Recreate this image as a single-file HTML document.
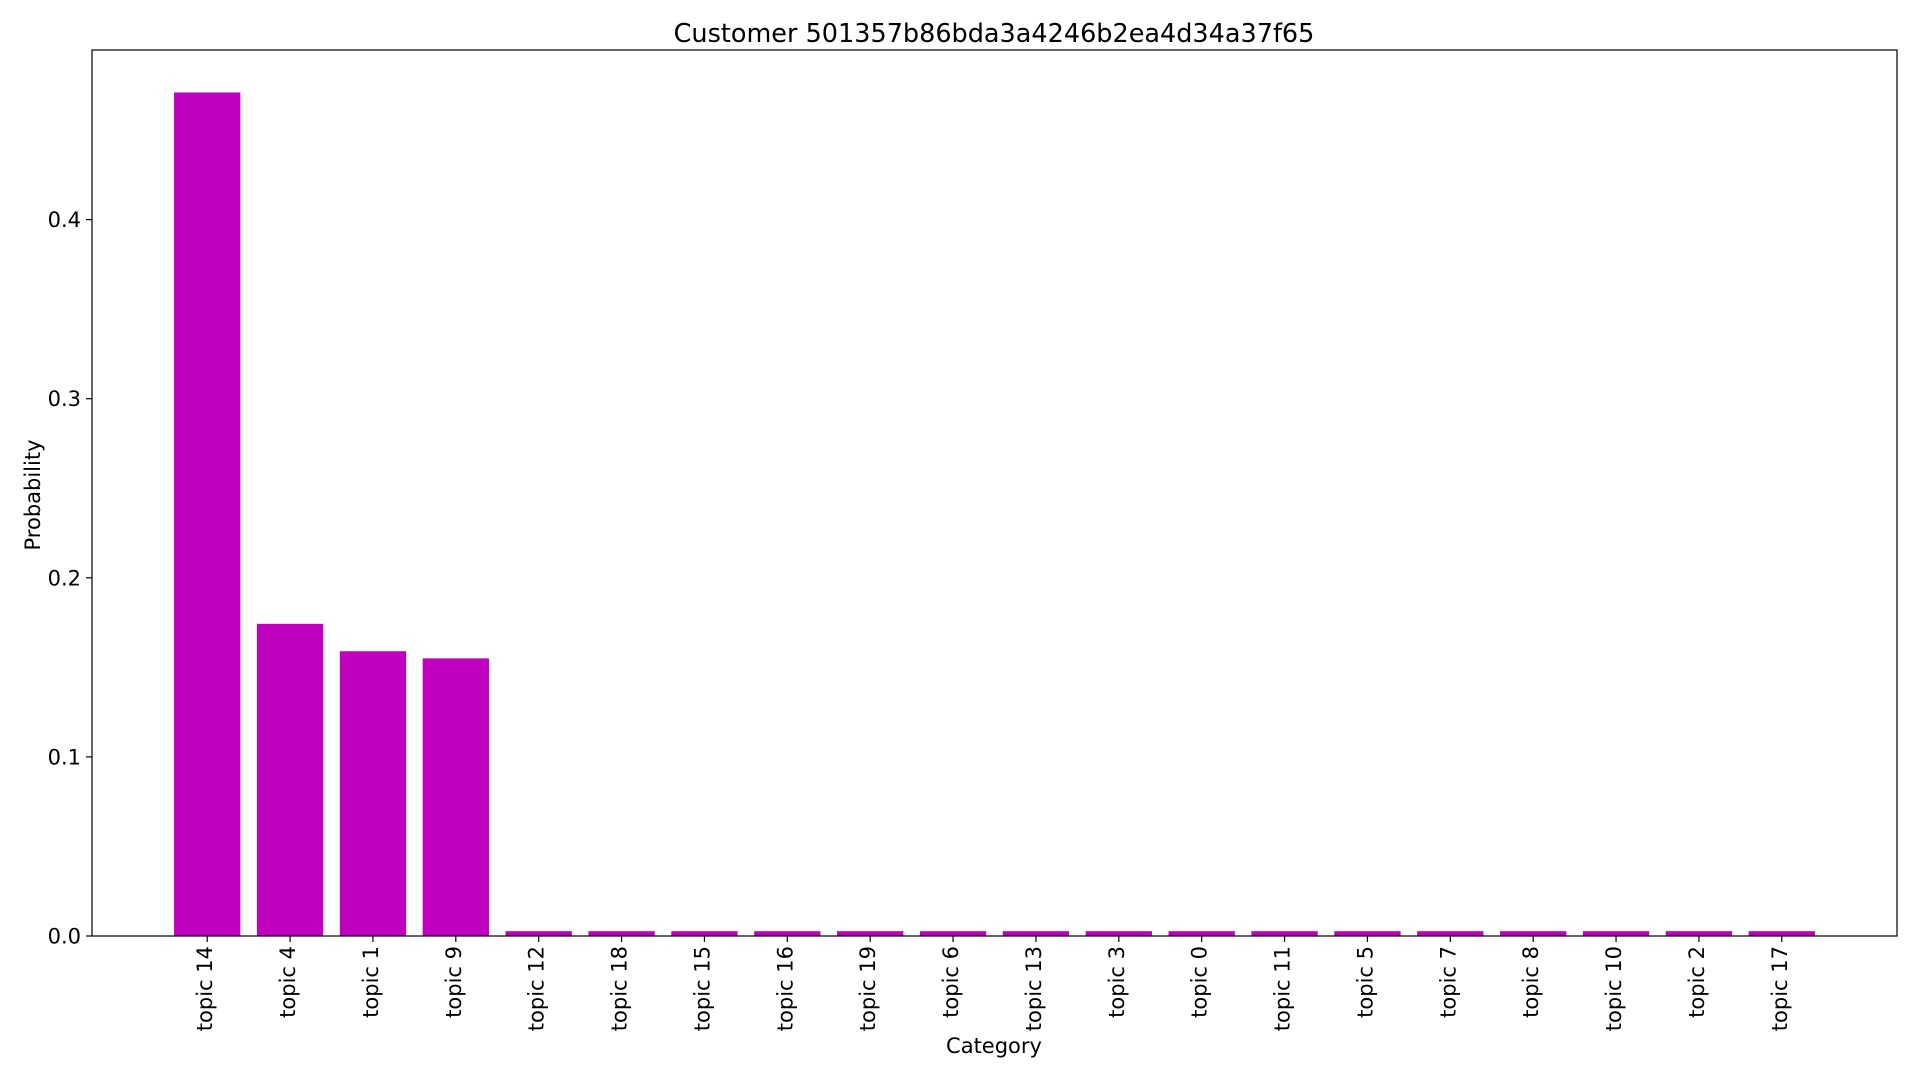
<!DOCTYPE html>
<html><head><meta charset="utf-8"><style>
html,body{margin:0;padding:0;background:#fff;}
svg{display:block;font-family:"DejaVu Sans","Liberation Sans",sans-serif;}
</style></head><body>
<svg id="chart" width="1920" height="1080" viewBox="0 0 1920 1080">
<text x="994" y="42" font-size="25.5" text-anchor="middle" fill="#000">Customer 501357b86bda3a4246b2ea4d34a37f65</text>
<g id="bars"></g>
<g id="yticks"></g>
<g id="xticks"></g>
<rect x="92" y="50" width="1805" height="886" fill="none" stroke="#000" stroke-width="1.2"/>
<text transform="translate(40,495) rotate(-90)" font-size="21" text-anchor="middle">Probability</text>
<text x="994" y="1053" font-size="21" text-anchor="middle">Category</text>
</svg>
<script>
const categories = ["topic 14","topic 4","topic 1","topic 9","topic 12","topic 18","topic 15","topic 16","topic 19","topic 6","topic 13","topic 3","topic 0","topic 11","topic 5","topic 7","topic 8","topic 10","topic 2","topic 17"];
const values = [0.471,0.1743,0.159,0.155,0.0027,0.0027,0.0027,0.0027,0.0027,0.0027,0.0027,0.0027,0.0027,0.0027,0.0027,0.0027,0.0027,0.0027,0.0027,0.0027];
const yTicks = [0.0,0.1,0.2,0.3,0.4];
const yTickLabels = ["0.0","0.1","0.2","0.3","0.4"];

const NS="http://www.w3.org/2000/svg";
const L=92,R=1897,T=50,B=936;
const yMax=0.4947, xMin=-1.39, xMax=categories.length-1+1.39;
function xs(i){return L+(i-xMin)/(xMax-xMin)*(R-L);}
function ys(v){return B-v/yMax*(B-T);}
const step=(R-L)/(xMax-xMin), bw=step*0.8;
const gb=document.getElementById('bars'), gy=document.getElementById('yticks'), gx=document.getElementById('xticks');
values.forEach((v,i)=>{
  const r=document.createElementNS(NS,'rect');
  r.setAttribute('x',xs(i)-bw/2);r.setAttribute('y',ys(v));
  r.setAttribute('width',bw);r.setAttribute('height',B-ys(v));
  r.setAttribute('fill','#bf00bf');
  
  
  gb.appendChild(r);
});
yTicks.forEach((t,k)=>{
  const y=ys(t);
  const l=document.createElementNS(NS,'line');
  l.setAttribute('x1',L-6);l.setAttribute('x2',L);l.setAttribute('y1',y);l.setAttribute('y2',y);
  l.setAttribute('stroke','#000');l.setAttribute('stroke-width','1.2');
  
  
  gy.appendChild(l);
  const tx=document.createElementNS(NS,'text');
  tx.setAttribute('x',L-11);tx.setAttribute('y',y+7.5);tx.setAttribute('font-size','21');tx.setAttribute('text-anchor','end');
  tx.textContent=yTickLabels[k];
  
  
  gy.appendChild(tx);
});
categories.forEach((c,i)=>{
  const x=xs(i);
  const l=document.createElementNS(NS,'line');
  l.setAttribute('x1',x);l.setAttribute('x2',x);l.setAttribute('y1',B);l.setAttribute('y2',B+6);
  l.setAttribute('stroke','#000');l.setAttribute('stroke-width','1.2');
  
  
  gx.appendChild(l);
  const tx=document.createElementNS(NS,'text');
  tx.setAttribute('transform','translate('+(x+5)+','+(B+10)+') rotate(-90)');
  tx.setAttribute('font-size','21');tx.setAttribute('text-anchor','end');
  tx.textContent=c;
  
  
  gx.appendChild(tx);
});
</script>
</body></html>
